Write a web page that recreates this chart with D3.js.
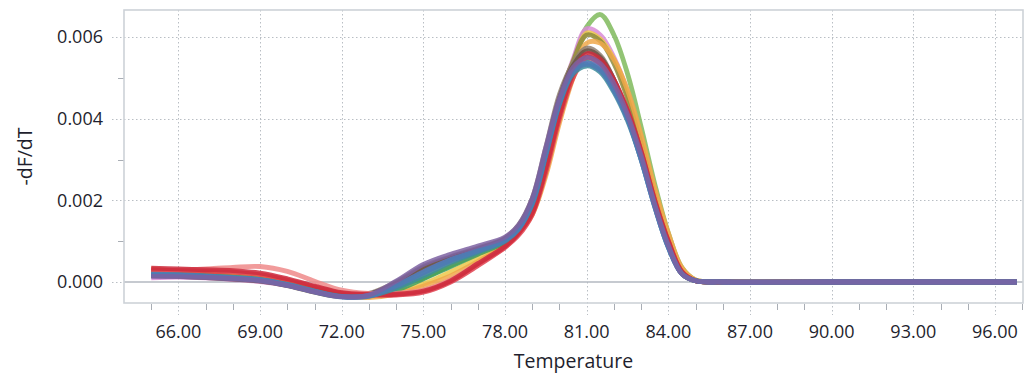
<!DOCTYPE html>
<html><head><meta charset="utf-8">
<script src="https://cdn.jsdelivr.net/npm/d3@7"></script>
<style>
html,body{margin:0;padding:0;background:#fff;}
svg{display:block;font-family:"Open Sans","Noto Sans",sans-serif;}
</style></head>
<body><svg id="chart" width="1032" height="378"></svg>
<script>
// Temperatures (°C) where each curve was read
const temperatures = [65,66,67,68,69,70,71,72,73,74,75,76,77,78,78.5,79,79.5,80,80.5,81,81.5,82,82.5,83,83.5,84,84.5,85,86,90,96.8];
// -dF/dT values, read in units of 1e-4
const VALUE_UNIT = 1e-4;
const green     = [2.4,2.2,1.9,1.4,0.8,-0.4,-2.0,-3.3,-3.0,-1.0,1.0,4.0,7.0,10.0,12.8,19,30,43,54,62.5,65.5,60.5,51,38,24,12,3.5,0.5,0,0,0];
const pink      = [1.0,1.2,1.0,0.6,0.1,-0.8,-2.2,-3.4,-3.2,-1.5,1.5,4.5,7.0,10.0,13,19.5,31,44,54.5,62,60.5,55,46.5,35,22,11,3,0.4,0,0,0];
const yellow    = [3.2,2.6,2.1,1.6,1.0,0.0,-1.6,-3.2,-3.6,-2.5,-0.5,2.5,5.8,9.5,12.5,17.5,28,41,52.5,61,59.5,54.5,46,35,22,11,3,0.4,0,0,0];
const olive     = [2.5,2.2,1.8,1.3,0.7,-0.4,-2.0,-3.2,-3.0,-0.5,3.0,5.5,8.0,10.5,13.5,20,32,45,54,60.5,59,53.5,45,34,21,10,2.5,0.3,0,0,0];
const orange    = [2.0,1.9,1.6,1.2,0.8,-0.3,-1.8,-3.3,-3.8,-3.0,-1.0,1.5,5.0,9.0,12.0,16.5,26,39,50,58.5,58.5,54.5,47,36,23,12,3.5,0.5,0,0,0];
const grayBrown = [2.0,1.8,1.5,1.1,0.6,-0.6,-2.2,-3.4,-2.8,0.0,3.8,6.2,8.3,10.8,14,20.5,33,46,53.5,57.3,55.5,49.5,41,31,19,9,2,0.3,0,0,0];
const darkBrown = [1.6,1.4,1.1,0.7,0.2,-0.9,-2.5,-3.6,-3.0,-0.3,3.5,6.0,8.0,10.5,13.5,20,32,45,53,56.6,55,49.5,41,31,19,9,2,0.3,0,0,0];
const green2    = [2.0,1.8,1.5,1.1,0.6,-0.5,-2.0,-3.3,-3.2,-2.0,0.8,3.8,6.8,9.8,12.8,18.5,30,43,51,54.5,52.5,48,40.5,31,19.5,9.5,2.2,0.3,0,0,0];
const salmon    = [2.8,2.9,3.2,3.6,3.8,2.6,0.2,-2.0,-2.8,-2.8,-2.0,0.5,4.5,8.5,12,17.5,29,42,51,55,53,48.5,41,31,19,9,2,0.3,0,0,0];
const red2      = [3.0,2.8,2.6,2.4,1.8,0.5,-1.2,-2.8,-3.2,-3.2,-2.5,0.0,4.0,8.5,11.5,16.5,27,40,50,55,53.5,49,42,32,20,10,2.5,0.3,0,0,0];
const red       = [3.4,3.2,3.0,2.8,2.2,0.8,-1.0,-2.6,-3.0,-3.0,-2.2,0.3,4.5,8.8,12,17,28,41,51,55.9,54.5,49.5,42,32,20,10,2.5,0.3,0,0,0];
const teal      = [1.9,1.8,1.5,1.1,0.6,-0.6,-2.2,-3.5,-3.4,-1.5,1.5,4.8,7.3,10.0,13,19,31,43.5,51,52.9,51.4,46.5,39.5,30,18.5,8.5,2,0.3,0,0,0];
const blue      = [1.8,1.7,1.4,1.0,0.5,-0.7,-2.3,-3.6,-3.3,-0.8,2.5,5.5,7.8,10.3,13.2,19.5,31.5,44,51.5,53.7,52.2,47,40,30,18.5,8.5,2,0.3,0,0,0];
const steelBlue = [1.7,1.6,1.3,0.9,0.4,-0.8,-2.4,-3.7,-3.5,-1.0,2.2,5.2,7.6,10.2,13,19.3,31.5,44,51.5,53.3,51.8,47,40,30,18.5,8.5,2,0.3,0,0,0];
const purple    = [1.4,1.3,1.1,0.8,0.3,-0.8,-2.4,-3.6,-3.2,0.2,4.3,6.8,8.8,11,14,20.5,33,45,52.5,55,53.5,48.5,41,31,19,9,2,0.3,0,0,0];

const seriesValues = [green,pink,yellow,olive,orange,grayBrown,darkBrown,green2,salmon,red2,red,teal,blue,steelBlue,purple];
const seriesColors = ["#7fba5c","#d98bd6","#ecc84a","#8d8a3c","#f0a84a","#8e7f72","#6b5445","#3f9e5a","#ef8a8a","#e0404e","#cc2a3c","#3d8e9c","#5878c4","#4c7db2","#7d62a2"];

const xTickValues = [66,69,72,75,78,81,84,87,90,93,96];
const xTickLabels = ["66.00","69.00","72.00","75.00","78.00","81.00","84.00","87.00","90.00","93.00","96.00"];
const xMinorTicks = [65,67,68,70,71,73,74,76,77,79,80,82,83,85,86,88,89,91,92,94,95,97];
const yTickValues = [0,0.002,0.004,0.006];
const yTickLabels = ["0.000","0.002","0.004","0.006"];
const yMinorTicks = [0.001,0.003,0.005];

const svg = d3.select("#chart");
const L = 124, T = 10, R = 1023, B = 303;
const x = d3.scaleLinear().domain([64, 97.03]).range([L, R]);
const y = d3.scaleLinear().domain([-0.000514, 0.006661]).range([B, T]);

const gridCol = "#b9bec4", tickCol = "#a9aeb5", textCol = "#1f1f2e";

// grid
const g = svg.append("g");
g.selectAll(".xg").data(xTickValues).join("line")
  .attr("x1", d => Math.round(x(d))+0.5).attr("x2", d => Math.round(x(d))+0.5)
  .attr("y1", T).attr("y2", B+12)
  .attr("stroke", gridCol).attr("stroke-width", 1).attr("stroke-dasharray", "1.5,2.5");
g.selectAll(".yg").data(yTickValues.filter(d => d !== 0)).join("line")
  .attr("y1", d => Math.round(y(d))+0.5).attr("y2", d => Math.round(y(d))+0.5)
  .attr("x1", L-12).attr("x2", R)
  .attr("stroke", gridCol).attr("stroke-width", 1).attr("stroke-dasharray", "1.5,2.5");
g.append("line").attr("x1", L-12).attr("x2", L).attr("y1", Math.round(y(0))+0.5).attr("y2", Math.round(y(0))+0.5)
  .attr("stroke", gridCol).attr("stroke-dasharray", "1.5,2.5");
g.append("line").attr("x1", L).attr("x2", R).attr("y1", y(0)).attr("y2", y(0))
  .attr("stroke", "#b3b9c0").attr("stroke-width", 1.6);
g.selectAll(".xm").data(xMinorTicks).join("line")
  .attr("x1", d => Math.round(x(d))+0.5).attr("x2", d => Math.round(x(d))+0.5)
  .attr("y1", B+1).attr("y2", B+7).attr("stroke", tickCol);
g.selectAll(".ym").data(yMinorTicks).join("line")
  .attr("y1", d => Math.round(y(d))+0.5).attr("y2", d => Math.round(y(d))+0.5)
  .attr("x1", L-6).attr("x2", L).attr("stroke", tickCol);

// curves
const line = d3.line()
  .x((d, i) => x(temperatures[i]))
  .y(d => y(d * VALUE_UNIT))
  .curve(d3.curveCatmullRom.alpha(0.5));
svg.append("g").selectAll("path").data(seriesValues).join("path")
  .attr("d", line)
  .attr("fill", "none")
  .attr("stroke", (d, i) => seriesColors[i])
  .attr("stroke-width", 4.8)
  .attr("stroke-opacity", 0.85)
  .attr("stroke-linejoin", "round")
  .attr("stroke-linecap", "butt");

// frame
svg.append("rect").attr("x", L).attr("y", T).attr("width", R-L).attr("height", B-T)
  .attr("fill", "none").attr("stroke", "#cdd2d8").attr("stroke-width", 1.6);

// labels
svg.append("g").selectAll("text").data(xTickValues).join("text")
  .attr("x", d => x(d)).attr("y", 332).attr("dy", "0.35em")
  .attr("text-anchor", "middle").attr("font-size", 18).attr("fill", textCol)
  .text((d, i) => xTickLabels[i]);
svg.append("g").selectAll("text").data(yTickValues).join("text")
  .attr("x", 103).attr("y", d => y(d)).attr("dy", "0.35em")
  .attr("text-anchor", "end").attr("font-size", 18).attr("fill", textCol)
  .text((d, i) => yTickLabels[i]);
svg.append("text").attr("x", (L+R)/2).attr("y", 368)
  .attr("text-anchor", "middle").attr("font-size", 19.5).attr("fill", textCol).text("Temperature");
svg.append("text").attr("transform", `translate(32,${(T+B)/2}) rotate(-90)`)
  .attr("text-anchor", "middle").attr("font-size", 19.5).attr("fill", textCol).text("-dF/dT");
</script></body></html>
